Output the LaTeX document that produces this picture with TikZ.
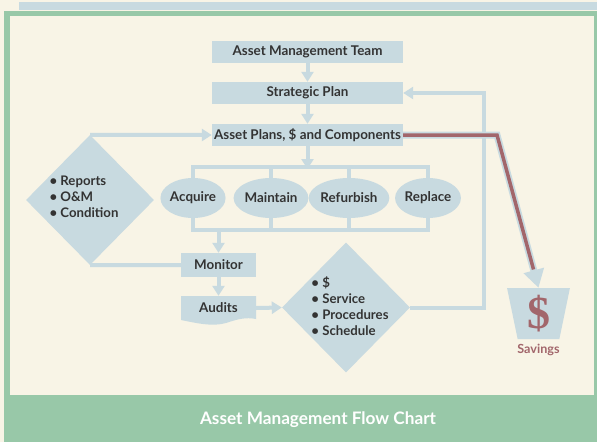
\documentclass[tikz,border=0pt]{standalone}
\usepackage{fontspec}
\setmainfont{Lato}
\newfontfamily\dollarfont{Liberation Serif}
\usetikzlibrary{arrows.meta,shapes.geometric,positioning}
\definecolor{cream}{HTML}{F8F4E6}
\definecolor{framegreen}{HTML}{98C8A8}
\definecolor{boxblue}{HTML}{C8DAE0}
\definecolor{saverose}{HTML}{A2666B}
\definecolor{inkgrey}{HTML}{333333}
\tikzset{
  block/.style={fill=boxblue,text=inkgrey,minimum width=191pt,minimum height=22pt,
    inner sep=0pt,font=\boxlabels},
  task/.style={ellipse,fill=boxblue,text=inkgrey,minimum width=60pt,minimum height=40pt,
    inner sep=0pt,font=\boxlabels},
  decision/.style={diamond,fill=boxblue,minimum width=128pt,minimum height=130pt,inner sep=0pt},
  listtext/.style={text=inkgrey,align=left,inner sep=0pt,font=\listlabels},
  flow/.style={draw=boxblue,line width=4pt},
  flowarrow/.style={flow,->},
}
\begin{document}
\begin{tikzpicture}[>={Triangle[width=12pt,length=10pt]},x=1pt,y=-1pt]
  % Configurable parameters
  \newcommand{\boxlabels}{\fontsize{13.4}{15}\selectfont\bfseries}   % box and ellipse labels
  \newcommand{\listlabels}{\fontsize{13.2}{16}\selectfont\bfseries}  % bullet lists
  \newcommand{\chartitle}{\fontsize{17.2}{19}\selectfont\bfseries}   % caption in the band
  %
  % Frame
  \useasboundingbox (0,0) rectangle (597,442);
  \fill[cream] (0,0) rectangle (597,442);
  \fill[boxblue] (19,2) rectangle (597,10);
  \fill[framegreen] (4,11) rectangle (597,442);
  \fill[cream] (9.5,16) rectangle (594,395);
  \node[text=white,font=\chartitle] (title) at (318,420) {Asset Management Flow Chart};
  %
  % Planning blocks
  \node[block] (team) at (307.5,52) {Asset Management Team};
  \node[block] (strategy) at (307.5,93) {Strategic Plan};
  \node[block] (plans) at (307.5,135) {Asset Plans, \$ and Components};
  %
  % Activities
  \coordinate (bustop) at (307.5,167);
  \coordinate (busbot) at (307.5,230);
  \node[task] (acquire) at (193,198) {Acquire};
  \node[task] (maintain) at (271,198) {Maintain};
  \node[task] (refurbish) at (349,198) {Refurbish};
  \node[task] (replace) at (428,198) {Replace};
  %
  % Review
  \node[block,minimum width=75pt,minimum height=24pt] (monitor) at (218.5,265) {Monitor};
  \fill[boxblue] (181,296) -- (256,296) -- (256,319)
    .. controls (246,317) and (238,319) .. (226,323)
    .. controls (212,327) and (196,323) .. (181,320) -- cycle;
  \node[text=inkgrey,font=\boxlabels,minimum width=75pt,minimum height=24pt,inner sep=0pt]
    (audits) at (218.5,308) {Audits};
  \node[decision] (reports) at (90,200) {};
  \node[listtext] (reportlist) at (84,197) {• Reports\\• O\&M\\• Condition};
  \node[decision] (checks) at (346,307.5) {};
  \node[listtext] (checklist) at (350,306) {• \$\\• Service\\• Procedures\\• Schedule};
  %
  % Savings
  \node[trapezium,trapezium left angle=99,trapezium right angle=99,trapezium stretches=true,
    minimum width=63pt,minimum height=51pt,inner sep=0pt,fill=boxblue,text=saverose,
    font=\dollarfont\bfseries\fontsize{46}{46}\selectfont] (bucket) at (538.5,313.5) {\$};
  \node[below=1pt of bucket,text=saverose,font=\fontsize{12.6}{13}\selectfont\bfseries]
    (savings) {Savings};
  %
  % Connecting lines
  \draw[flowarrow] (team) -- (strategy);
  \draw[flowarrow] (strategy) -- (plans);
  \draw[flowarrow] (plans.south) -- ([yshift=-2pt]plans |- bustop);
  \draw[flow] (acquire.north) -- (acquire |- bustop) -- (replace |- bustop) -- (replace.north);
  \draw[flow] (maintain.north) -- (maintain |- bustop);
  \draw[flow] (refurbish.north) -- (refurbish |- bustop);
  \draw[flow] (acquire.south) -- (acquire |- busbot) -- (replace |- busbot) -- (replace.south);
  \draw[flow] (maintain.south) -- (maintain |- busbot);
  \draw[flow] (refurbish.south) -- (refurbish |- busbot);
  \draw[flowarrow] (monitor |- busbot) -- (monitor.north);
  \draw[flowarrow] (monitor) -- (audits);
  \draw[flowarrow] (audits.east) -- (checks.west);
  \draw[flow] (monitor.west) -- (reports.south);
  \draw[flowarrow] (reports.north) -- (plans.west);
  \draw[flowarrow] (checks.east) -- ++(74,0) |- (strategy.east);
  %
  % Savings line
  \coordinate (bend) at (497,135);
  \draw[draw=boxblue,line width=7pt,-{Triangle[width=20pt,length=18pt]}]
    (plans.east) -- (bend) -- (bucket.north);
  \draw[draw=saverose,line width=3.5pt,shorten >=19pt]
    (plans.east) -- (bend) -- (bucket.north);
  %
\end{tikzpicture}
\end{document}
